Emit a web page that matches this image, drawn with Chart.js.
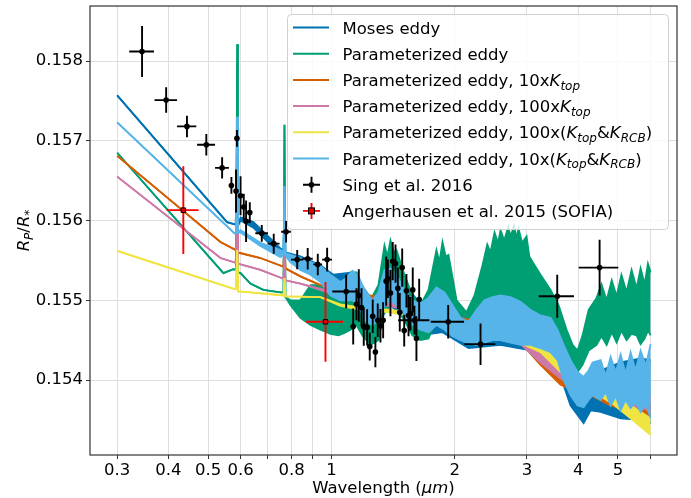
<!DOCTYPE html>
<html>
<head>
<meta charset="utf-8">
<script src="https://cdn.jsdelivr.net/npm/chart.js@4.4.1/dist/chart.umd.min.js"></script>
<style>
  html, body { margin: 0; padding: 0; background: #fff; }
  #wrap { width: 691px; height: 498px; }
</style>
</head>
<body>
<div id="wrap"><canvas id="spectrum" width="691" height="498"></canvas></div>
<script>
// model spectra: [wavelength (um), upper Rp/R*, lower Rp/R*] -- band between upper and lower is the line noise
const mosesEddy = [
  [0.300,0.15757,0.15757],[0.556,0.15598,0.15598],[0.584,0.15595,0.15595],[0.589,0.15688,0.15688],
  [0.591,0.15593,0.15593],[0.600,0.15604,0.15600],[0.645,0.15598,0.15591],[0.751,0.15565,0.15557],
  [0.764,0.15563,0.15560],[0.768,0.15626,0.15626],[0.772,0.15560,0.15557],[0.840,0.15555,0.15544],
  [0.940,0.15544,0.15525],[1.011,0.15532,0.15506],[1.125,0.15535,0.15494],[1.259,0.15500,0.15463],
  [1.393,0.15540,0.15494],[1.649,0.15496,0.15456],[1.866,0.15513,0.15460],[2.160,0.15473,0.15440],
  [2.586,0.15506,0.15444],[3.238,0.15481,0.15435],[3.563,0.15456,0.15415],[3.833,0.15412,0.15368],
  [4.124,0.15394,0.15346],[4.290,0.15406,0.15362],[4.538,0.15412,0.15360],[5.078,0.15422,0.15352],
  [5.681,0.15427,0.15350],[6.010,0.15425,0.15346]
];
const paramEddy = [
  [0.300,0.15685,0.15685],[0.545,0.15534,0.15534],[0.576,0.15539,0.15539],[0.585,0.15538,0.15538],
  [0.589,0.15821,0.15821],[0.591,0.15535,0.15535],[0.600,0.15534,0.15534],[0.634,0.15521,0.15521],
  [0.682,0.15513,0.15513],[0.751,0.15510,0.15510],[0.764,0.15510,0.15510],[0.768,0.15720,0.15720],
  [0.772,0.15504,0.15504],[0.794,0.15500,0.15494],[0.840,0.15500,0.15478],[0.889,0.15519,0.15469],
  [0.940,0.15519,0.15463],[0.994,0.15513,0.15458],[1.040,0.15500,0.15456],[1.076,0.15519,0.15459],
  [1.113,0.15535,0.15463],[1.151,0.15535,0.15469],[1.190,0.15513,0.15456],[1.245,0.15500,0.15444],
  [1.302,0.15519,0.15450],[1.347,0.15569,0.15488],[1.370,0.15555,0.15490],[1.393,0.15575,0.15496],
  [1.420,0.15560,0.15495],[1.441,0.15563,0.15494],[1.507,0.15532,0.15475],[1.576,0.15506,0.15456],
  [1.649,0.15494,0.15450],[1.725,0.15513,0.15452],[1.804,0.15563,0.15475],[1.835,0.15548,0.15478],
  [1.866,0.15573,0.15481],[1.900,0.15555,0.15480],[1.930,0.15557,0.15478],[2.020,0.15500,0.15463],
  [2.136,0.15485,0.15452],[2.234,0.15506,0.15456],[2.337,0.15544,0.15475],[2.400,0.15570,0.15488],
  [2.444,0.15560,0.15494],[2.500,0.15585,0.15497],[2.550,0.15572,0.15500],[2.586,0.15588,0.15500],
  [2.640,0.15575,0.15500],[2.700,0.15592,0.15500],[2.735,0.15580,0.15500],[2.790,0.15593,0.15500],
  [2.830,0.15578,0.15500],[2.861,0.15590,0.15500],[2.920,0.15572,0.15498],[2.993,0.15580,0.15494],
  [3.040,0.15555,0.15490],[3.096,0.15548,0.15488],[3.238,0.15532,0.15475],[3.425,0.15513,0.15463],
  [3.583,0.15494,0.15444],[3.748,0.15463,0.15425],[3.876,0.15444,0.15415],[3.986,0.15437,0.15410],
  [4.100,0.15456,0.15419],[4.242,0.15488,0.15437],[4.436,0.15503,0.15444],[4.560,0.15520,0.15455],
  [4.694,0.15500,0.15444],[4.830,0.15525,0.15460],[4.965,0.15505,0.15447],[5.100,0.15532,0.15462],
  [5.250,0.15510,0.15450],[5.400,0.15538,0.15458],[5.555,0.15515,0.15456],[5.680,0.15540,0.15445],
  [5.810,0.15520,0.15452],[5.920,0.15546,0.15462],[6.010,0.15535,0.15456]
];
const ktop10 = [
  [0.300,0.15681,0.15681],[0.536,0.15573,0.15573],[0.584,0.15563,0.15563],[0.589,0.15626,0.15626],
  [0.591,0.15560,0.15560],[0.671,0.15553,0.15553],[0.764,0.15542,0.15542],[0.768,0.15575,0.15575],
  [0.772,0.15540,0.15540],[0.840,0.15530,0.15530],[0.940,0.15519,0.15519],[1.052,0.15513,0.15510],
  [1.177,0.15508,0.15503],[1.317,0.15504,0.15498],[1.474,0.15500,0.15493],[1.649,0.15494,0.15485],
  [1.845,0.15488,0.15478],[2.065,0.15478,0.15463],[2.311,0.15473,0.15456],[2.586,0.15469,0.15452],
  [2.893,0.15463,0.15447],[3.238,0.15444,0.15419],[3.623,0.15419,0.15394],[3.986,0.15400,0.15385],
  [4.290,0.15394,0.15381],[4.800,0.15381,0.15368],[5.370,0.15375,0.15362],[6.010,0.15368,0.15356]
];
const ktop100 = [
  [0.300,0.15655,0.15655],[0.536,0.15553,0.15553],[0.584,0.15547,0.15547],[0.589,0.15607,0.15607],
  [0.591,0.15546,0.15546],[0.671,0.15538,0.15538],[0.764,0.15527,0.15527],[0.768,0.15557,0.15557],
  [0.772,0.15525,0.15525],[0.840,0.15521,0.15521],[1.052,0.15508,0.15505],[1.177,0.15504,0.15500],
  [1.317,0.15500,0.15495],[1.474,0.15498,0.15490],[1.649,0.15491,0.15483],[1.845,0.15485,0.15475],
  [2.065,0.15475,0.15458],[2.311,0.15470,0.15454],[2.586,0.15466,0.15450],[2.893,0.15460,0.15445],
  [3.238,0.15437,0.15422],[3.623,0.15417,0.15402],[3.986,0.15402,0.15390],[4.290,0.15396,0.15385],
  [4.800,0.15387,0.15375],[5.370,0.15381,0.15368],[6.010,0.15377,0.15362]
];
const ktopRcb100 = [
  [0.300,0.15562,0.15562],[0.580,0.15514,0.15514],[0.584,0.15514,0.15514],[0.589,0.15563,0.15563],
  [0.592,0.15511,0.15511],[0.634,0.15510,0.15510],[0.764,0.15506,0.15506],[0.768,0.15528,0.15528],
  [0.772,0.15505,0.15505],[0.940,0.15504,0.15504],[1.052,0.15495,0.15493],[1.177,0.15491,0.15488],
  [1.393,0.15488,0.15485],[1.649,0.15483,0.15478],[1.952,0.15473,0.15468],[2.311,0.15465,0.15459],
  [2.735,0.15459,0.15452],[3.238,0.15444,0.15435],[3.623,0.15422,0.15410],[3.986,0.15405,0.15394],
  [4.290,0.15400,0.15387],[4.800,0.15385,0.15372],[5.370,0.15368,0.15352],[6.010,0.15352,0.15331]
];
const ktopRcb10 = [
  [0.300,0.15723,0.15723],[0.580,0.15584,0.15584],[0.585,0.15584,0.15584],[0.589,0.15730,0.15730],
  [0.591,0.15585,0.15585],[0.600,0.15588,0.15585],[0.671,0.15572,0.15568],[0.751,0.15563,0.15554],
  [0.764,0.15560,0.15557],[0.768,0.15643,0.15643],[0.772,0.15559,0.15556],[0.794,0.15557,0.15548],
  [0.840,0.15553,0.15538],[0.889,0.15548,0.15532],[0.940,0.15543,0.15523],[0.994,0.15532,0.15506],
  [1.052,0.15523,0.15500],[1.088,0.15528,0.15500],[1.125,0.15537,0.15500],[1.164,0.15530,0.15494],
  [1.204,0.15513,0.15475],[1.259,0.15500,0.15469],[1.302,0.15510,0.15475],[1.347,0.15538,0.15494],
  [1.393,0.15540,0.15500],[1.441,0.15532,0.15494],[1.507,0.15513,0.15481],[1.576,0.15500,0.15469],
  [1.649,0.15496,0.15463],[1.725,0.15503,0.15460],[1.804,0.15516,0.15469],[1.887,0.15510,0.15463],
  [1.974,0.15494,0.15455],[2.065,0.15478,0.15450],[2.160,0.15473,0.15446],[2.260,0.15488,0.15444],
  [2.363,0.15500,0.15447],[2.472,0.15504,0.15450],[2.586,0.15506,0.15450],[2.735,0.15504,0.15447],
  [2.893,0.15498,0.15444],[3.061,0.15488,0.15444],[3.238,0.15481,0.15440],[3.425,0.15478,0.15435],
  [3.563,0.15463,0.15425],[3.686,0.15444,0.15400],[3.833,0.15425,0.15381],[3.986,0.15410,0.15368],
  [4.124,0.15404,0.15366],[4.242,0.15412,0.15375],[4.338,0.15422,0.15381],[4.538,0.15425,0.15375],
  [4.670,0.15405,0.15385],[4.800,0.15429,0.15368],[4.940,0.15410,0.15380],[5.078,0.15432,0.15362],
  [5.220,0.15408,0.15375],[5.370,0.15435,0.15365],[5.520,0.15412,0.15372],[5.681,0.15437,0.15360],
  [5.850,0.15418,0.15370],[6.010,0.15445,0.15352]
];

// Sing et al. 2016 transmission points
const singWave = [0.345,0.395,0.444,0.495,0.541,0.570,0.588,0.585,0.600,0.611,0.619,0.632,
  0.676,0.723,0.775,0.825,0.875,0.926,0.976,1.086,
  1.130,1.151,1.166,1.184,1.199,1.222,1.240,1.261,1.280,1.297,1.317,1.337,1.360,1.373,1.393,
  1.411,1.433,1.452,1.468,1.488,1.505,1.524,1.542,1.559,1.579,1.594,1.612,1.637,
  1.927,2.311,3.556,4.512];
const singHalfWidth = [0.024,0.025,0.024,0.025,0.021,0.006,0.003,0.006,0.006,0.006,0.006,0.006,
  0.024,0.024,0.021,0.028,0.025,0.023,0.027,0.081,
  0.010,0.010,0.010,0.010,0.010,0.010,0.010,0.010,0.010,0.010,0.010,0.010,0.010,0.010,0.010,
  0.010,0.010,0.010,0.010,0.010,0.010,0.010,0.010,0.010,0.010,0.140,0.010,0.010,
  0.180,0.200,0.350,0.500];
const singDepth = [0.15812,0.15751,0.15718,0.15695,0.15666,0.15644,0.15703,0.15637,0.15631,0.15617,0.15599,0.15610,
  0.15584,0.15571,0.15586,0.15551,0.15552,0.15545,0.15551,0.15511,
  0.15467,0.15495,0.15506,0.15491,0.15467,0.15466,0.15442,0.15480,0.15435,0.15475,0.15468,0.15475,0.15524,0.15527,0.15509,
  0.15549,0.15546,0.15515,0.15485,0.15541,0.15462,0.15512,0.15481,0.15483,0.15513,0.15475,0.15452,0.15501,
  0.15473,0.15445,0.15505,0.15541];
const singErr = [0.00032,0.00016,0.000135,0.000134,0.000132,0.000105,0.000105,0.00027,0.000245,0.000167,0.00026,0.00013,
  0.000105,0.000125,0.000135,0.00012,0.000135,0.000135,0.00015,0.00021,
  0.000226,0.0002,0.00033,0.00024,0.00024,0.000226,0.000176,0.00021,0.00019,0.00021,0.00021,0.000226,0.00031,0.00024,0.00029,
  0.00024,0.00024,0.00026,0.00024,0.00024,0.0002,0.00021,0.00026,0.00021,0.00028,0.00018,0.00028,0.00026,
  0.00021,0.00026,0.00027,0.00035];

// Angerhausen et al. 2015 (SOFIA)
const sofiaWave = [0.435, 0.967];
const sofiaHalfWidth = [0.039, 0.100];
const sofiaDepth = [0.15613, 0.15473];
const sofiaErr = [0.00055, 0.00050];

const modelLabels = [
  'Moses eddy',
  'Parameterized eddy',
  'Parameterized eddy, 10xK_{top}',
  'Parameterized eddy, 100xK_{top}',
  'Parameterized eddy, 100x(K_{top}&K_{RCB})',
  'Parameterized eddy, 10x(K_{top}&K_{RCB})'
];
const modelSeries = [mosesEddy, paramEddy, ktop10, ktop100, ktopRcb100, ktopRcb10];
const modelColors = ['#0072B2', '#009E73', '#D55E00', '#CC79A7', '#F0E442', '#56B4E9'];
const dataLabels = ['Sing et al. 2016', 'Angerhausen et al. 2015 (SOFIA)'];

const xTicks = [0.3, 0.4, 0.5, 0.6, 0.7, 0.8, 0.9, 1, 2, 3, 4, 5, 6];
const xTickLabels = { 0.3: '0.3', 0.4: '0.4', 0.5: '0.5', 0.6: '0.6', 0.8: '0.8', 1: '1', 2: '2', 3: '3', 4: '4', 5: '5' };
const yTicks = [0.154, 0.155, 0.156, 0.157, 0.158];

const FONT = "'DejaVu Sans', 'Liberation Sans', sans-serif";
const FS = 16.5;

// two datasets per model: upper edge, then lower edge filled up to it
const datasets = [];
const nLayers = modelSeries.length + 2;
modelSeries.forEach((rows, k) => {
  const base = {
    borderColor: modelColors[k],
    backgroundColor: modelColors[k],
    borderWidth: 1.8,
    pointRadius: 0,
    tension: 0,
    order: nLayers - k
  };
  datasets.push(Object.assign({}, base, {
    label: modelLabels[k],
    data: rows.map(r => ({ x: r[0], y: r[1] })),
    fill: false
  }));
  datasets.push(Object.assign({}, base, {
    label: modelLabels[k] + ' (lower)',
    data: rows.map(r => ({ x: r[0], y: r[2] })),
    fill: '-1'
  }));
});
datasets.push({
  label: dataLabels[0],
  data: singWave.map((w, i) => ({ x: w, y: singDepth[i] })),
  xErr: singHalfWidth, yErr: singErr, barColor: '#000',
  showLine: false, pointRadius: 2.8, pointStyle: 'circle',
  pointBackgroundColor: '#000', pointBorderColor: '#000', borderWidth: 0,
  order: 1
});
datasets.push({
  label: dataLabels[1],
  data: sofiaWave.map((w, i) => ({ x: w, y: sofiaDepth[i] })),
  xErr: sofiaHalfWidth, yErr: sofiaErr, barColor: '#ff0000',
  showLine: false, pointRadius: 3.2, pointStyle: 'rect',
  pointBackgroundColor: '#e00000', pointBorderColor: '#000', pointBorderWidth: 1,
  order: 0
});

// draws the error bars under each data marker
const errorBars = {
  id: 'errorBars',
  beforeDatasetDraw(chart, args) {
    const ds = chart.data.datasets[args.index];
    if (!ds.xErr) return;
    const xs = chart.scales.x, ys = chart.scales.y, ctx = chart.ctx, a = chart.chartArea;
    ctx.save();
    ctx.beginPath();
    ctx.rect(a.left, a.top, a.right - a.left, a.bottom - a.top);
    ctx.clip();
    ctx.strokeStyle = ds.barColor;
    ctx.lineWidth = 1.9;
    ctx.beginPath();
    ds.data.forEach((p, i) => {
      const px = xs.getPixelForValue(p.x), py = ys.getPixelForValue(p.y);
      ctx.moveTo(xs.getPixelForValue(p.x - ds.xErr[i]), py);
      ctx.lineTo(xs.getPixelForValue(p.x + ds.xErr[i]), py);
      ctx.moveTo(px, ys.getPixelForValue(p.y - ds.yErr[i]));
      ctx.lineTo(px, ys.getPixelForValue(p.y + ds.yErr[i]));
    });
    ctx.stroke();
    ctx.restore();
  }
};

// splits "K_{top}" style markup into italic base + italic subscript pieces
function richParts(label) {
  const parts = [];
  let last = 0;
  label.replace(/([A-Za-z])_\{([^}]*)\}/g, (m, b, sub, off) => {
    if (off > last) parts.push({ t: label.slice(last, off), s: 'n' });
    parts.push({ t: b, s: 'i' });
    parts.push({ t: sub, s: 'sub' });
    last = off + m.length;
  });
  if (last < label.length) parts.push({ t: label.slice(last), s: 'n' });
  return parts;
}

function partFont(s, size) {
  if (s === 'n') return size + 'px ' + FONT;
  if (s === 'i') return 'italic ' + size + 'px ' + FONT;
  return 'italic ' + Math.round(size * 0.7) + 'px ' + FONT;
}

function richWidth(ctx, parts, size) {
  let w = 0;
  parts.forEach(p => { ctx.font = partFont(p.s, size); w += ctx.measureText(p.t).width; });
  return w;
}

function drawRich(ctx, parts, x, y, size) {
  ctx.textBaseline = 'alphabetic';
  ctx.textAlign = 'left';
  parts.forEach(p => {
    ctx.font = partFont(p.s, size);
    const dy = p.s === 'sub' ? size * 0.22 : 0;
    ctx.fillText(p.t, x, y + dy);
    x += ctx.measureText(p.t).width;
  });
}

// frame, axis titles and legend
const decorations = {
  id: 'decorations',
  afterDraw(chart) {
    const ctx = chart.ctx, a = chart.chartArea;
    ctx.save();
    ctx.strokeStyle = '#333';
    ctx.lineWidth = 1.2;
    ctx.strokeRect(a.left, a.top, a.right - a.left, a.bottom - a.top);

    ctx.fillStyle = '#000';
    // x title
    const xt = richParts('Wavelength (').concat([{ t: 'μm', s: 'i' }, { t: ')', s: 'n' }]);
    const xw = richWidth(ctx, xt, FS);
    drawRich(ctx, xt, (a.left + a.right) / 2 - xw / 2, 493, FS);
    // y title
    const yt = richParts('R_{P}/R_{*}');
    const yw = richWidth(ctx, yt, FS);
    ctx.save();
    ctx.translate(29, (a.top + a.bottom) / 2);
    ctx.rotate(-Math.PI / 2);
    drawRich(ctx, yt, -yw / 2, 0, FS);
    ctx.restore();

    // legend box
    const bx = 287.5, by = 14.5, bw = 381, bh = 215, r = 4;
    ctx.beginPath();
    ctx.moveTo(bx + r, by);
    ctx.arcTo(bx + bw, by, bx + bw, by + bh, r);
    ctx.arcTo(bx + bw, by + bh, bx, by + bh, r);
    ctx.arcTo(bx, by + bh, bx, by, r);
    ctx.arcTo(bx, by, bx + bw, by, r);
    ctx.closePath();
    ctx.fillStyle = 'rgba(255,255,255,0.8)';
    ctx.fill();
    ctx.strokeStyle = '#d0d0d0';
    ctx.lineWidth = 1;
    ctx.stroke();

    const rowY = k => 27.5 + k * 26.2;
    modelLabels.forEach((lab, k) => {
      const y = rowY(k);
      ctx.strokeStyle = modelColors[k];
      ctx.lineWidth = 2;
      ctx.beginPath();
      ctx.moveTo(293, y);
      ctx.lineTo(329, y);
      ctx.stroke();
      ctx.fillStyle = '#000';
      drawRich(ctx, richParts(lab), 342.5, y + 6, FS);
    });
    [['#000', 'circle'], ['#ff0000', 'rect']].forEach((st, j) => {
      const y = rowY(6 + j), cx = 311.5;
      ctx.strokeStyle = st[0];
      ctx.lineWidth = 1.9;
      ctx.beginPath();
      ctx.moveTo(303, y); ctx.lineTo(320, y);
      ctx.moveTo(cx, y - 8); ctx.lineTo(cx, y + 8);
      ctx.stroke();
      if (st[1] === 'circle') {
        ctx.fillStyle = '#000';
        ctx.beginPath(); ctx.arc(cx, y, 2.8, 0, Math.PI * 2); ctx.fill();
      } else {
        ctx.fillStyle = '#e00000';
        ctx.fillRect(cx - 3, y - 3, 6, 6);
        ctx.strokeStyle = '#000'; ctx.lineWidth = 1;
        ctx.strokeRect(cx - 3, y - 3, 6, 6);
      }
      ctx.fillStyle = '#000';
      drawRich(ctx, richParts(dataLabels[j]), 342.5, y + 6, FS);
    });
    ctx.restore();
  }
};

Chart.defaults.font.family = FONT;
Chart.defaults.font.size = FS;
Chart.defaults.color = '#000';

new Chart(document.getElementById('spectrum'), {
  type: 'line',
  data: { datasets },
  plugins: [errorBars, decorations],
  options: {
    responsive: false,
    animation: false,
    layout: { padding: { left: 0, right: 14, top: 6, bottom: 0 } },
    plugins: { legend: { display: false }, tooltip: { enabled: false } },
    scales: {
      x: {
        type: 'logarithmic',
        min: 0.2575,
        max: 6.97,
        afterBuildTicks(scale) { scale.ticks = xTicks.map(v => ({ value: v })); },
        afterFit(scale) {
          scale.height = 43;
          scale.paddingLeft = 0; scale.paddingRight = 0;
        },
        ticks: {
          autoSkip: false, maxRotation: 0, padding: 2,
          font: { size: FS },
          callback: v => xTickLabels[v] || ''
        },
        grid: { color: '#dedede', lineWidth: 1, tickColor: '#333', tickLength: 4, drawTicks: true },
        border: { display: false }
      },
      y: {
        type: 'linear',
        min: 0.15306,
        max: 0.15869,
        afterBuildTicks(scale) { scale.ticks = yTicks.map(v => ({ value: v })); },
        afterFit(scale) {
          scale.width = 90;
          scale.paddingTop = 0; scale.paddingBottom = 0;
        },
        ticks: { padding: 3, font: { size: FS }, callback: v => v.toFixed(3) },
        grid: { color: '#dedede', lineWidth: 1, tickColor: '#333', tickLength: 4, drawTicks: true },
        border: { display: false }
      }
    }
  }
});
</script>
</body>
</html>
